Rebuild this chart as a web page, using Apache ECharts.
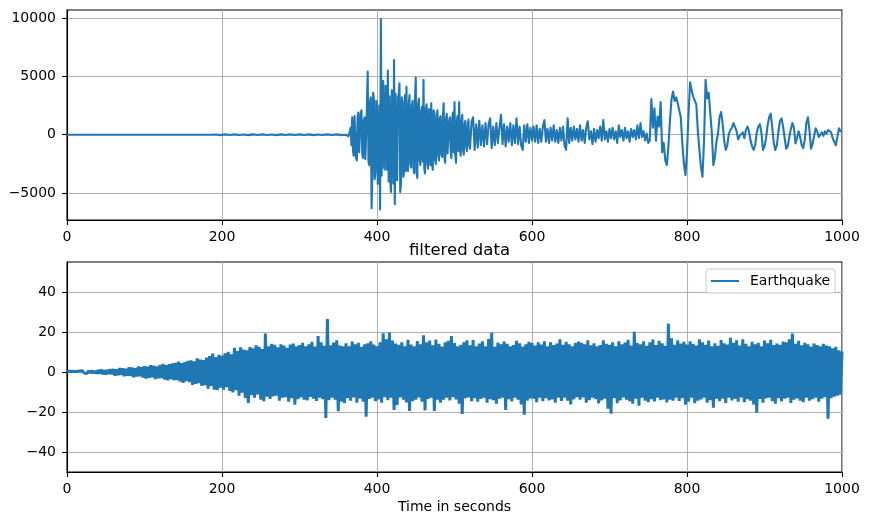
<!DOCTYPE html>
<html><head><meta charset="utf-8">
<script src="https://cdn.jsdelivr.net/npm/echarts@6/dist/echarts.min.js"></script>
<style>html,body{margin:0;padding:0;background:#fff}#c{width:869px;height:525px}</style>
</head><body><div id="c"></div>
<script>
// ---- data ----
const xTicks = [0, 200, 400, 600, 800, 1000];
const rawYTicks = [-5000, 0, 5000, 10000];
const filtYTicks = [-40, -20, 0, 20, 40];
const seriesName = 'Earthquake';
const titleBottom = 'filtered data';
const xLabel = 'Time in seconds';

// raw trace, quiet part: t = 0, 6, ..., 354 s
const rawQuietStart = 0, rawQuietStep = 6;
const rawQuiet = [
  0, 4, -3, 5, -3, 4, -5, 4, -4, 3,
  -4, 4, -3, 5, -4, 4, -5, 3, -4, 4,
  -4, 5, -4, 3, -5, 4, -4, 5, -3, 4,
  -5, 4, 25, -30, 28, -25, 30, -28, 25, -30,
  28, -25, 30, -28, 25, -30, 28, -25, 30, -28,
  30, -25, 28, -30, 25, -28, 30, -25, 28, -35
];
// raw trace, strong-motion part: t = 360, 361, ..., 519 s
const rawStrongStart = 360, rawStrongStep = 1;
const rawStrong = [
  0, 100, 150, -150, -250, 300, 600, -900, 1500, -1400,
  -1800, 1600, 1700, -2000, -2200, 1600, 1900, -1500, -1600, 1800,
  2100, -1700, -2000, 1200, 1500, -2100, -2200, 2400, 5400, -2300,
  -2600, 2800, 3200, -6300, -3500, 3600, 3000, -3800, -3200, 2900,
  2600, -4200, -3800, 2500, -6400, 9900, -3500, 3800, 4600, -2800,
  -3000, 4200, 3300, -3000, 5500, -4000, 3300, -3600, -4900, 3800,
  3000, -4200, 6400, -5950, 3500, -3000, -3900, 3200, 3400, 4400,
  -4900, -4100, 3200, 2800, -3600, -3100, 3400, -3100, 4100, -2800,
  -3100, 2700, 3400, -2500, -2800, 2500, 2900, -2800, -3300, 3000,
  4900, -3200, -3700, 2600, 3100, -2200, -2600, 2000, 2400, -2300,
  4700, -2900, -3300, 2200, 2600, -2500, -2900, 2200, 1900, -2600,
  2700, -2500, -3000, 2100, 1900, -2200, -2500, 1600, 2100, -1800,
  -2200, 1400, 1600, -1700, -1900, 1500, 2700, -2000, -2400, 1300,
  1800, -1600, -1700, 1200, 1500, -1400, -2000, 1300, 1900, -1500,
  2800, -1700, -2400, 1200, 1600, -1400, 2800, -1100, -1800, 1100,
  1700, -1300, -1700, 900, 1200, -1000, -1400, 700, 1300, -900
];
// raw trace, coda part: t = 520, 522, ..., 1000 s
const rawCodaStart = 520, rawCodaStep = 2;
const rawCoda = [
  -1200, 1100, 1500, -1300, 900, -1100, 1200, -900, 800, -1000,
  1000, -800, 900, 1400, -1150, 700, -900, 1000, -700, 600,
  1700, -800, 900, -1000, 700, -600, 1000, -900, 800, -700,
  1400, -800, 700, -900, -1300, 800, -600, 900, -700, 600,
  -500, 700, -600, 800, -700, 500, -600, 700, 1250, -600,
  500, -700, 600, -500, 800, -600, 400, -700, 600, -500,
  700, -900, -1300, 1400, -700, 600, -500, 700, -400, 500,
  -600, 800, -500, 400, -700, 600, 1150, -400, 300, -800,
  500, -600, 400, -300, 700, -500, 1250, -400, 300, -600,
  500, -300, 600, -400, 300, -700, 800, -200, 400, -500,
  600, -300, 300, -600, 500, -200, 400, -400, 800, -300,
  1000, -200, 300, -500, 100, -700, -500, 3050, 600, 2270,
  -500, 1550, 700, 2800, -1500, -700, -2200, -2600, -1000, 1200,
  3000, 3700, 2900, 3200, 2700, 2800, 1500, -800, -2500, -3450,
  -1500, 1800, 4500, 3800, 3250, 3400, 2600, 300, -1300, -2800,
  -3600, -500, 4700, 3100, 3600, 1850, 200, -2600, -1900, -600,
  100, 1500, 1950, 900, -500, -1300, -900, 100, 400, 600,
  1000, 900, 300, -400, -100, 0, 200, -300, 400, 700,
  300, -500, -1000, -1300, -900, 200, 700, 900, 200, -1300,
  -1000, -300, 800, 1500, 1800, 600, -700, -1300, -900, 300,
  1200, 1400, 700, -300, -1200, -1000, -200, 500, 1000, 600,
  -750, -300, 300, -200, -900, -1150, -400, 1000, 1500, 400,
  -1200, -800, -100, 550, 300, -200, -300, 200, -100, 300,
  100, 400, 550, 200, -300, -600, -900, -200, 550, 300,
  300
];

// filtered trace: t = 0, 2, ..., 1000 s
const filtStart = 0, filtStep = 2;
const filtered = [
  0.2, -0.3, 0.4, -0.2, 0.3, -0.4, 0.2, -0.3, 0.5, -0.3,
  0.6, -0.5, 0.4, -0.7, 0.6, -0.5, 0.8, -0.6, 0.5, -0.8,
  1.0, -0.8, 1.2, -1.1, 0.9, -1.3, 1.1, -1.0, 1.4, -1.2,
  1.5, -1.8, 1.3, -1.6, 2.0, -1.4, 1.8, -2.1, 1.6, -1.9,
  2.4, -2.0, 2.2, -2.6, 1.9, -2.3, 2.7, -2.1, 2.5, -2.8,
  2.9, -3.3, 2.6, -2.9, 3.4, -2.7, 3.1, -3.5, 2.8, -3.2,
  3.6, -3.1, 4.0, -3.8, 3.4, -4.2, 3.9, -3.6, 4.3, -4.0,
  4.6, -4.1, 5.2, -4.8, 4.4, -5.5, 5.0, -4.6, 5.6, -5.1,
  5.8, -6.4, 5.3, -6.0, 6.8, -5.6, 6.2, -7.0, 5.9, -6.6,
  7.2, -8.4, 8.0, -6.9, 9.2, -8.8, 7.5, -9.0, 8.6, -7.8,
  8.2, -8.9, 9.4, -7.6, 10.1, -9.5, 8.8, -10.2, 12.1, -9.1,
  10.5, -11.8, 12.3, -10.4, 11.2, -13.0, 10.8, -15.5, 12.5, -11.6,
  11.9, -12.8, 13.4, -11.2, 12.6, -13.9, 11.5, -14.6, 19.2, -12.4,
  12.8, -13.5, 14.1, -12.2, 13.6, -11.8, 12.4, -14.3, 13.9, -12.9,
  13.2, -12.6, 12.1, -14.8, 13.7, -13.1, 14.2, -16.4, 12.8, -13.6,
  13.5, -12.7, 14.6, -13.9, 12.9, -14.2, 13.8, -12.5, 15.1, -13.3,
  12.7, -14.5, 18.0, -12.8, 14.8, -13.6, 13.1, -23.0, 26.5, -14.1,
  13.4, -12.9, 14.7, -13.8, 15.9, -19.6, 13.2, -14.9, 12.8, -15.6,
  14.3, -13.1, 12.9, -14.4, 15.2, -12.7, 13.8, -15.3, 14.6, -13.2,
  12.6, -14.8, 13.9, -22.4, 14.4, -13.5, 15.3, -12.8, 13.7, -14.6,
  12.9, -13.7, 14.8, -15.4, 19.3, -12.6, 16.3, -14.1, 19.7, -12.9,
  15.7, -19.0, 14.2, -16.5, 13.6, -12.7, 14.9, -13.9, 12.8, -15.2,
  16.1, -19.5, 13.7, -14.6, 12.9, -13.8, 15.5, -12.7, 13.9, -14.8,
  18.4, -19.2, 14.8, -13.5, 15.7, -12.9, 13.4, -19.5, 16.2, -13.8,
  14.1, -15.3, 12.7, -13.9, 14.9, -12.8, 15.6, -14.2, 18.0, -12.6,
  14.5, -13.7, 12.8, -15.9, 13.6, -21.0, 14.9, -13.2, 15.8, -12.7,
  13.4, -14.6, 16.0, -13.1, 12.9, -14.8, 14.2, -13.5, 15.3, -12.9,
  12.8, -15.4, 16.5, -13.6, 19.6, -14.1, 12.6, -15.8, 14.7, -13.3,
  13.8, -12.9, 15.2, -19.0, 14.1, -13.6, 12.9, -14.7, 13.5, -12.8,
  15.6, -13.9, 14.3, -16.2, 12.7, -21.4, 13.8, -14.4, 15.1, -13.2,
  14.6, -13.4, 13.2, -15.1, 14.9, -12.8, 13.7, -14.6, 15.4, -13.1,
  12.9, -14.2, 14.8, -13.7, 13.5, -15.3, 14.2, -12.9, 16.3, -14.5,
  13.6, -12.9, 15.1, -14.3, 13.9, -16.2, 12.8, -13.7, 14.5, -12.6,
  15.2, -13.8, 14.6, -12.7, 13.9, -15.4, 15.8, -14.1, 13.4, -12.9,
  14.3, -13.6, 12.8, -15.7, 13.5, -14.2, 15.9, -13.4, 14.1, -18.3,
  13.6, -20.9, 14.8, -13.1, 12.9, -15.6, 15.3, -14.2, 13.8, -12.7,
  14.7, -13.9, 16.1, -14.6, 13.2, -15.8, 20.1, -13.4, 14.5, -16.9,
  13.9, -12.8, 15.4, -14.3, 13.1, -15.1, 14.8, -13.6, 16.2, -14.7,
  13.5, -12.9, 15.6, -14.1, 14.3, -13.7, 13.1, -15.2, 24.2, -13.8,
  16.8, -14.3, 13.6, -12.8, 15.9, -14.5, 14.2, -13.1, 15.1, -16.4,
  13.7, -14.9, 15.4, -12.8, 14.1, -15.6, 13.2, -14.3, 16.4, -13.7,
  14.8, -12.9, 13.6, -15.3, 15.7, -14.1, 12.8, -17.8, 14.3, -13.4,
  13.1, -14.6, 16.0, -13.3, 14.4, -15.5, 13.7, -12.8, 17.1, -14.2,
  14.6, -13.4, 15.8, -14.9, 13.2, -12.7, 16.3, -15.1, 14.1, -13.6,
  12.8, -14.3, 15.1, -16.2, 13.9, -20.4, 14.6, -13.5, 12.9, -15.4,
  15.7, -13.2, 14.4, -12.9, 16.1, -14.6, 13.5, -15.8, 14.2, -13.1,
  13.6, -14.7, 15.2, -13.4, 14.9, -12.8, 16.4, -15.5, 19.2, -13.9,
  14.1, -13.2, 15.6, -14.4, 13.3, -15.1, 14.6, -12.9, 13.8, -14.3,
  12.7, -13.6, 14.2, -12.9, 13.5, -14.8, 12.9, -13.4, 14.1, -12.6,
  13.2, -23.4, 12.8, -13.1, 11.9, -12.4, 12.6, -11.8, 10.9, -11.3,
  10.2
];

// ---- build ----
const toPairs = (arr, start, step) => arr.map((v, i) => [start + i * step, v]);
const rawPairs = toPairs(rawQuiet, rawQuietStart, rawQuietStep)
  .concat(toPairs(rawStrong, rawStrongStart, rawStrongStep))
  .concat(toPairs(rawCoda, rawCodaStart, rawCodaStep));
const filtPairs = toPairs(filtered, filtStart, filtStep);

const FONT = 'DejaVu Sans';
const minus = v => String(v).replace('-', '\u2212');
const lineColor = '#1f77b4';

function xAxis(gi, name) {
  return {
    type: 'value', gridIndex: gi, min: 0, max: 1000,
    axisLine: {show: true, onZero: false, lineStyle: {color: '#000', width: 1.1}},
    axisTick: {show: true, length: 5, customValues: xTicks, lineStyle: {color: '#000', width: 1.1}},
    axisLabel: {customValues: xTicks, color: '#000', fontSize: 14, fontFamily: FONT, margin: 10, formatter: v => String(v)},
    splitLine: {show: true, lineStyle: {color: '#b0b0b0', width: 1.1}},
    name: name || '', nameLocation: 'middle', nameGap: 28,
    nameTextStyle: {color: '#000', fontSize: 14, fontFamily: FONT}
  };
}
function yAxis(gi, min, max, ticks) {
  return {
    type: 'value', gridIndex: gi, min: min, max: max,
    axisLine: {show: true, onZero: false, lineStyle: {color: '#000', width: 1.1}},
    axisTick: {show: true, length: 5, customValues: ticks, lineStyle: {color: '#000', width: 1.1}},
    axisLabel: {customValues: ticks, color: '#000', fontSize: 14, fontFamily: FONT, margin: 11, formatter: minus},
    splitLine: {show: true, lineStyle: {color: '#b0b0b0', width: 1.1}}
  };
}

const chart = echarts.init(document.getElementById('c'), null, {renderer: 'canvas'});
chart.setOption({
  animation: false,
  backgroundColor: '#fff',
  textStyle: {fontFamily: FONT},
  title: {
    text: titleBottom, left: 454.5, top: 237, textAlign: 'center',
    textStyle: {fontSize: 16.5, fontWeight: 'normal', color: '#000', fontFamily: FONT}
  },
  legend: {
    data: [{name: seriesName, icon: 'rect'}],
    left: 706, top: 269, orient: 'vertical',
    itemWidth: 28, itemHeight: 2,
    padding: [5, 5, 5, 5],
    backgroundColor: 'rgba(255,255,255,0.8)',
    borderColor: '#cccccc', borderWidth: 1, borderRadius: 3,
    selectedMode: false,
    itemStyle: {color: lineColor},
    textStyle: {fontSize: 14, fontFamily: FONT, color: '#000', padding: [0, 0, 0, 6]}
  },
  grid: [
    {left: 67, top: 10, width: 775, height: 210, show: true, borderColor: '#000', borderWidth: 1.1, containLabel: false},
    {left: 67, top: 262, width: 775, height: 210, show: true, borderColor: '#000', borderWidth: 1.1, containLabel: false}
  ],
  xAxis: [xAxis(0), xAxis(1, xLabel)],
  yAxis: [yAxis(0, -7300, 10680, rawYTicks), yAxis(1, -50, 55, filtYTicks)],
  series: [
    {
      name: 'raw data', type: 'line', xAxisIndex: 0, yAxisIndex: 0,
      data: rawPairs, showSymbol: false, symbol: 'none', sampling: null,
      lineStyle: {color: lineColor, width: 2.1, join: 'round'}, itemStyle: {color: lineColor}, silent: true
    },
    {
      name: seriesName, type: 'line', xAxisIndex: 1, yAxisIndex: 1,
      data: filtPairs, showSymbol: false, symbol: 'none', sampling: null,
      lineStyle: {color: lineColor, width: 3}, itemStyle: {color: lineColor}, silent: true
    }
  ]
});
</script>
</body></html>
